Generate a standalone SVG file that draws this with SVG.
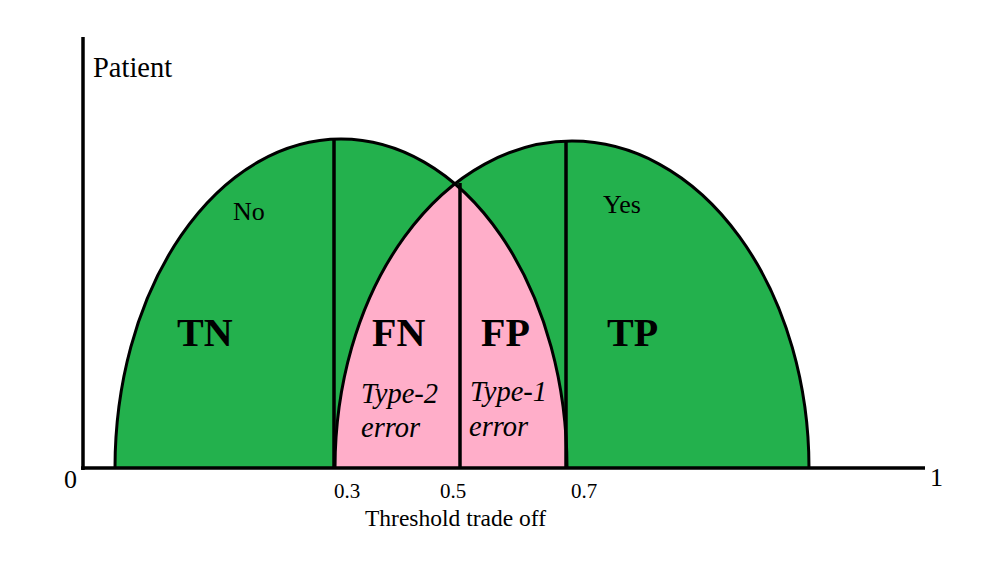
<svg xmlns="http://www.w3.org/2000/svg" width="995" height="569" viewBox="0 0 995 569">
<style>
.t{font-family:"Liberation Serif","Times New Roman",serif;fill:#000}
.b{font-weight:bold;font-size:40px}
.i{font-style:italic;font-size:28.5px}
.ln{stroke:#000;stroke-width:3.5;fill:none}
.arc{stroke:#000;stroke-width:3;fill:none}
</style>
<defs>
<clipPath id="clipL"><path d="M115,468 A226,329 0 0 1 567,468 Z"/></clipPath>
</defs>
<rect width="995" height="569" fill="#fff"/>
<g id="left-curve">
<path d="M115,468 A226,329 0 0 1 567,468 Z" fill="#23b14d"/>
</g>
<g id="right-curve">
<path d="M335,468 A237,327 0 0 1 809,468 Z" fill="#23b14d"/>
</g>
<g id="overlap">
<path d="M335,468 A237,327 0 0 1 809,468 Z" fill="#ffaec9" clip-path="url(#clipL)"/>
</g>
<g id="connectors">
<path class="arc" d="M115,468 A226,329 0 0 1 567,468"/>
<path class="arc" d="M335,468 A237,327 0 0 1 809,468"/>
<line class="ln" x1="334" y1="139" x2="334" y2="468"/>
<line class="ln" x1="460" y1="183" x2="460" y2="468"/>
<line class="ln" x1="566" y1="141" x2="566" y2="468"/>
<line class="ln" x1="83" y1="37" x2="83" y2="470"/>
<line class="ln" x1="81" y1="468" x2="925" y2="468"/>
</g>
<g id="labels">
<text class="t" x="93" y="77" font-size="28.5">Patient</text>
<text class="t" x="64" y="488" font-size="26">0</text>
<text class="t" x="930" y="486" font-size="26">1</text>
<text class="t" x="334" y="498" font-size="21">0.3</text>
<text class="t" x="440" y="498" font-size="21">0.5</text>
<text class="t" x="571" y="498" font-size="21">0.7</text>
<text class="t" x="365" y="526" font-size="23.5">Threshold trade off</text>
<text class="t" x="233" y="220" font-size="26">No</text>
<text class="t" x="603" y="213" font-size="26">Yes</text>
<text class="t b" x="177" y="346">TN</text>
<text class="t b" x="372" y="346">FN</text>
<text class="t b" x="481" y="346">FP</text>
<text class="t b" x="607" y="346">TP</text>
<text class="t i" x="361" y="403">Type-2</text>
<text class="t i" x="361" y="437">error</text>
<text class="t i" x="470" y="401">Type-1</text>
<text class="t i" x="469" y="436">error</text>
</g>
</svg>
